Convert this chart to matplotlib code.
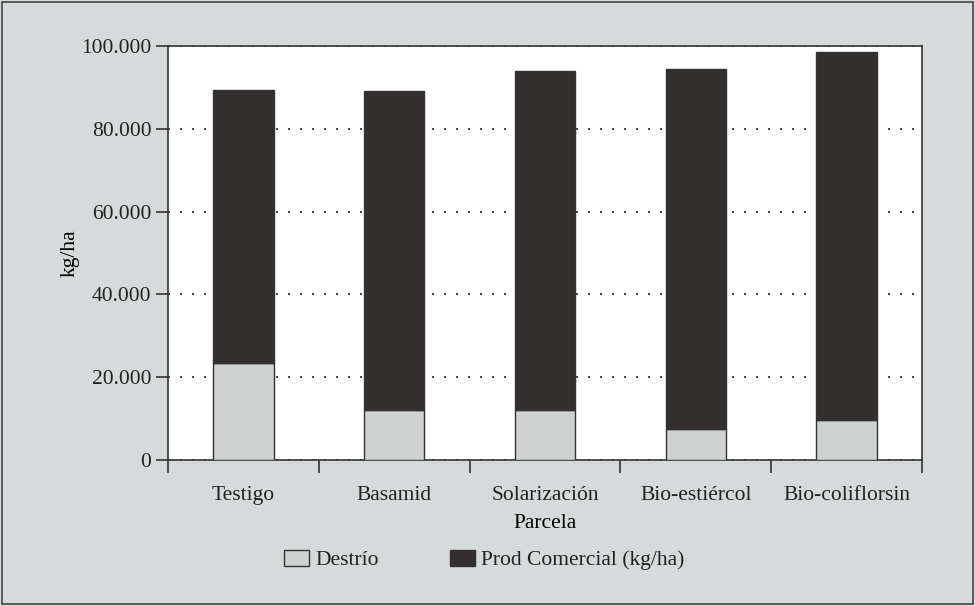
import matplotlib.pyplot as plt
from matplotlib.ticker import FuncFormatter, MultipleLocator, FixedLocator
from matplotlib.patches import Patch, Rectangle

parcelas = ['Testigo', 'Basamid', 'Solarización', 'Bio-estiércol', 'Bio-coliflorsin']
destrio = [23400, 12100, 12100, 7500, 9700]
prod_comercial = [66000, 77000, 81900, 86900, 88900]

plt.rcParams['font.family'] = ['Liberation Serif', 'DejaVu Serif']
plt.rcParams['text.color'] = '#222222'
plt.rcParams['xtick.labelcolor'] = '#222222'
plt.rcParams['ytick.labelcolor'] = '#222222'

bg = '#d6dadb'
light = '#d0d2d2'
dark = '#332f2f'
fs = 15.5

fig = plt.figure(figsize=(9.75, 6.06), dpi=100, facecolor=bg)
fig.patches.append(Rectangle((0.002, 0.003), 0.996, 0.994, transform=fig.transFigure,
                             fill=False, edgecolor='#444444', linewidth=1.2))
ax = fig.add_axes([0.1723, 0.2409, 0.7733, 0.6832])

x = range(len(parcelas))
ax.bar(x, destrio, width=0.4, color=light, edgecolor='#333333', linewidth=1.0, zorder=3)
ax.bar(x, prod_comercial, width=0.4, bottom=destrio, color=dark, edgecolor='#333333',
       linewidth=1.0, zorder=3)

ax.set_xlim(-0.5, len(parcelas) - 0.5)
ax.set_ylim(0, 100000)
ax.yaxis.set_major_locator(MultipleLocator(20000))
ax.yaxis.set_major_formatter(FuncFormatter(lambda v, p: f'{int(v):,}'.replace(',', '.')))
ax.grid(axis='y', linestyle=(0, (1.2, 6)), color='#222222', linewidth=1.2, zorder=1)

ax.set_xticks(list(x))
ax.set_xticklabels(parcelas)
ax.xaxis.set_minor_locator(FixedLocator([i - 0.5 for i in range(len(parcelas) + 1)]))
ax.tick_params(axis='x', which='major', length=0, pad=19, labelsize=fs)
ax.tick_params(axis='x', which='minor', length=9, width=1.2, direction='out', color='#333333')
ax.tick_params(axis='y', length=9, width=1.2, direction='out', color='#333333', labelsize=fs, pad=3)

for s in ax.spines.values():
    s.set_color('#333333')
    s.set_linewidth(1.2)

ax.set_xlabel('Parcela', fontsize=fs, labelpad=6)
ax.set_ylabel('kg/ha', fontsize=fs, labelpad=1)

handles = [Patch(facecolor=light, edgecolor='#333333', linewidth=1.0),
           Patch(facecolor=dark, edgecolor=dark)]
fig.legend(handles, ['Destrío', 'Prod Comercial (kg/ha)'], loc='center', ncol=2,
           bbox_to_anchor=(0.497, 0.076), frameon=False, fontsize=fs,
           handlelength=1.15, handleheight=0.75, handletextpad=0.3, columnspacing=3.3)

fig.savefig('out.png', dpi=100, facecolor=bg)
